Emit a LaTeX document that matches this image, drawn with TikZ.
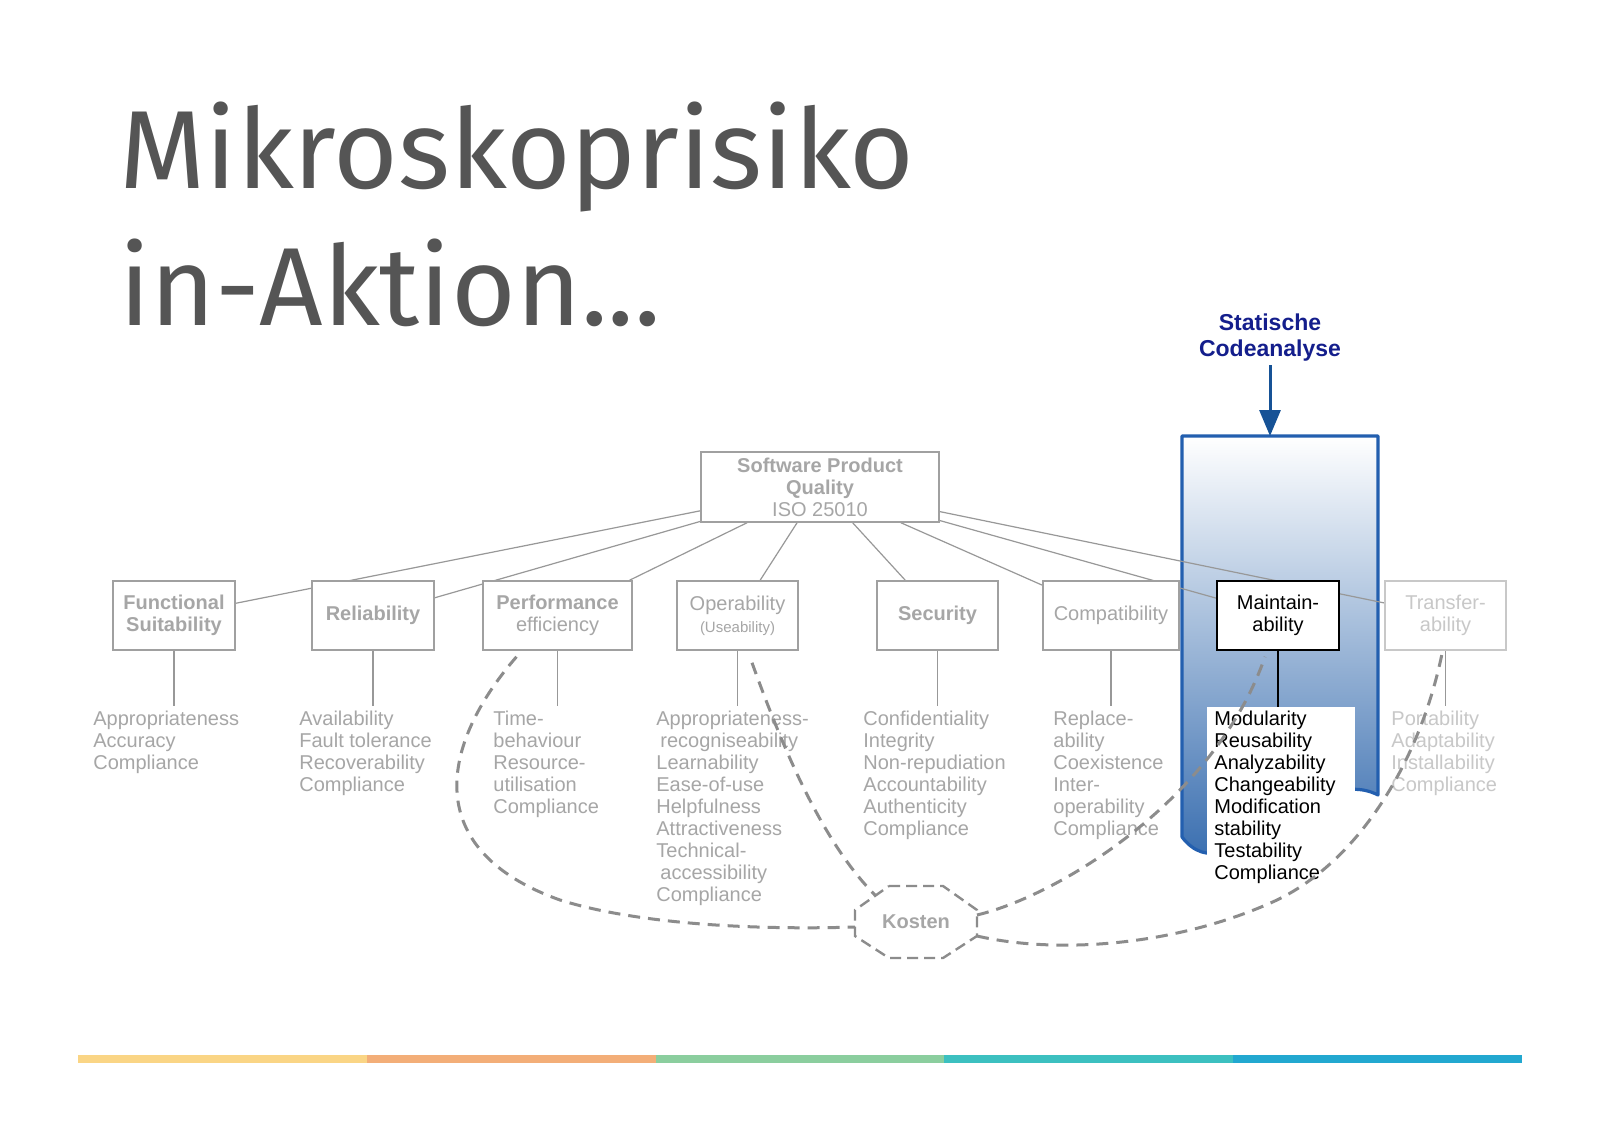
\documentclass[tikz,border=0pt]{standalone}
\usepackage{fontspec}
\setmainfont{Liberation Sans}
\newfontfamily\titlefont{Fira Sans}
\usepackage{xcolor}
\usepackage{tikz}
\usetikzlibrary{arrows.meta,calc,backgrounds}
\definecolor{titlegray}{RGB}{85,85,85}
\definecolor{txtgray}{RGB}{166,166,166}
\definecolor{boxgray}{RGB}{160,160,160}
\definecolor{linegray}{RGB}{152,152,152}
\definecolor{palegray}{RGB}{200,200,200}
\definecolor{dashgray}{RGB}{140,140,140}
\definecolor{navy}{RGB}{20,30,140}
\definecolor{arrowblue}{RGB}{22,82,150}
\definecolor{edgeblue}{RGB}{35,95,175}
\definecolor{shadeblue}{RGB}{38,96,168}
\definecolor{barA}{RGB}{250,213,133}
\definecolor{barB}{RGB}{243,174,120}
\definecolor{barC}{RGB}{139,206,158}
\definecolor{barD}{RGB}{60,192,192}
\definecolor{barE}{RGB}{34,168,208}
\tikzset{
  titletext/.style={anchor=base west, inner sep=0pt, text=titlegray, font=\titlefont\fontsize{55.5}{64}\selectfont},
  qbox/.style     ={draw=boxgray, line width=0.75pt, fill=white, align=center, minimum width=61pt, minimum height=34.5pt, inner sep=1pt, text=txtgray, font=\fontsize{10}{11}\selectfont},
  sublist/.style  ={anchor=north west, align=left, inner sep=0pt, text=txtgray, font=\fontsize{10}{11}\selectfont},
  stemline/.style ={draw=linegray, line width=0.6pt, shorten >=2.5pt},
  conn/.style     ={draw=linegray, line width=0.6pt},
  kostline/.style ={draw=dashgray, line width=1.5pt, dash pattern=on 6pt off 4pt},
  codearrow/.style={-{Triangle[length=13pt,width=10.5pt]}, draw=arrowblue, line width=1.5pt, shorten <=1.5pt},
}

\begin{document}
\begin{tikzpicture}[x=0.5pt,y=-0.5pt]
  \useasboundingbox (0,0) rectangle (1600,1130);

  \node[titletext] (title) at (119,188) {Mikroskoprisiko};
  \node[titletext] (titleb) at (119,325) {in-Aktion...};

  \begin{scope}[on background layer]
    \fill[white] (0,0) rectangle (1600,1130);
    \shadedraw[top color=white, bottom color=shadeblue, draw=edgeblue, line width=1.6pt, line join=round, line cap=round]
      (1182,436) -- (1182,837) .. controls (1230,900) and (1310,760) .. (1378,795) -- (1378,436) -- cycle;
  \end{scope}
  \coordinate (bluetop) at (1270,436);
  \node[inner sep=0pt, align=center, text=navy, font=\bfseries\fontsize{11.5}{13}\selectfont] (sca) at (1270,338) {Statische\\Codeanalyse};
  \draw[codearrow] (sca) -- (bluetop);

  \node[qbox, minimum width=119pt, minimum height=35pt] (spq) at (820,487) {\textbf{Software Product}\\\textbf{Quality}\\ISO 25010};

  \node[qbox] (func) at (174,615.5) {\textbf{Functional}\\\textbf{Suitability}};
  \node[qbox] (rel) at (373,615.5) {\textbf{Reliability}};
  \node[qbox, minimum width=74.5pt] (perf) at (557.5,615.5) {\textbf{Performance}\\efficiency};
  \node[qbox, minimum width=60.5pt] (oper) at (737.5,615.5) {Operability\\{\fontsize{7.5}{10}\selectfont(Useability)}};
  \node[qbox, minimum width=60.5pt] (sec) at (937.5,615.5) {\textbf{Security}};
  \node[qbox, minimum width=68pt] (comp) at (1111,615.5) {Compatibility};
  \node[qbox, draw=black, text=black] (maint) at (1278,615.5) {Maintain-\\ability};
  \node[qbox, minimum width=60.5pt, draw=palegray, text=palegray] (trans) at (1445.5,615.5) {Transfer-\\ability};

  \node[sublist] (funcsub) at (93,711) {Appropriateness\\Accuracy\\Compliance};
  \node[sublist] (relsub) at (299,711) {Availability\\Fault tolerance\\Recoverability\\Compliance};
  \node[sublist] (perfsub) at (493,711) {Time-\\behaviour\\Resource-\\utilisation\\Compliance};
  \node[sublist] (opersub) at (656,711) {Appropriateness-\\\hspace{2pt}recogniseability\\Learnability\\Ease-of-use\\Helpfulness\\Attractiveness\\Technical-\\\hspace{2pt}accessibility\\Compliance};
  \node[sublist] (secsub) at (863,711) {Confidentiality\\Integrity\\Non-repudiation\\Accountability\\Authenticity\\Compliance};
  \node[sublist] (compsub) at (1053,711) {Replace-\\ability\\Coexistence\\Inter-\\operability\\Compliance};
  \node[sublist, fill=white, text=black, inner xsep=3.5pt, inner ysep=2pt, text width=67pt] (maintsub) at (1207,707) {Modularity\\Reusability\\Analyzability\\Changeability\\Modification\\stability\\Testability\\Compliance};
  \node[sublist, text=palegray] (transsub) at (1391,711) {Portability\\Adaptability\\Installability\\Compliance};

  \begin{scope}[on background layer]
    \foreach \b in {func,rel,perf,oper,sec,comp,maint,trans}
      \draw[conn] (spq) -- (\b);
    \foreach \b in {func,rel,perf,oper,sec,comp,trans}
      \draw[stemline] (\b.south) -- (\b.south |- \b sub.north);
    \draw[line width=0.75pt] (maint.south) -- (maint.south |- maintsub.north);
  \end{scope}

  \node[minimum width=61pt, minimum height=36pt, inner sep=0pt, text=txtgray, font=\bfseries\fontsize{10}{11}\selectfont] (kosten) at (916,922) {Kosten};
  \draw[kostline, line width=1.2pt, dash pattern=on 5.5pt off 3pt]
    ($(kosten)+(-27,-36)$) -- ($(kosten)+(27,-36)$) -- ($(kosten)+(61,-12)$) -- ($(kosten)+(61,14)$)
    -- ($(kosten)+(27,36)$) -- ($(kosten)+(-27,36)$) -- ($(kosten)+(-61,14)$) -- ($(kosten)+(-61,-12)$) -- cycle;

  \draw[kostline] ($(perf.south)+(-41,6)$) .. controls (440,745) and (420,850) .. (560,900)
    .. controls (640,925) and (760,930) .. ($(kosten)+(-61,5)$);
  \draw[kostline] ($(oper.south)+(14.5,12)$) .. controls (780,740) and (820,840) .. ($(kosten)+(-41,-27)$);
  \draw[kostline] ($(kosten)+(61,-7)$) .. controls (1060,895) and (1215,800) .. ($(maint.south)+(-13,6)$);
  \draw[kostline] ($(kosten)+(61,14)$) .. controls (1060,955) and (1180,945) .. (1277,900)
    .. controls (1360,860) and (1420,760) .. ($(trans.south)+(-3.5,3)$);

  \foreach \c [count=\i from 0] in {barA,barB,barC,barD,barE}
    \fill[\c] ({78+288.8*\i},1055) rectangle ({78+288.8*(\i+1)},1063);
\end{tikzpicture}
\end{document}
